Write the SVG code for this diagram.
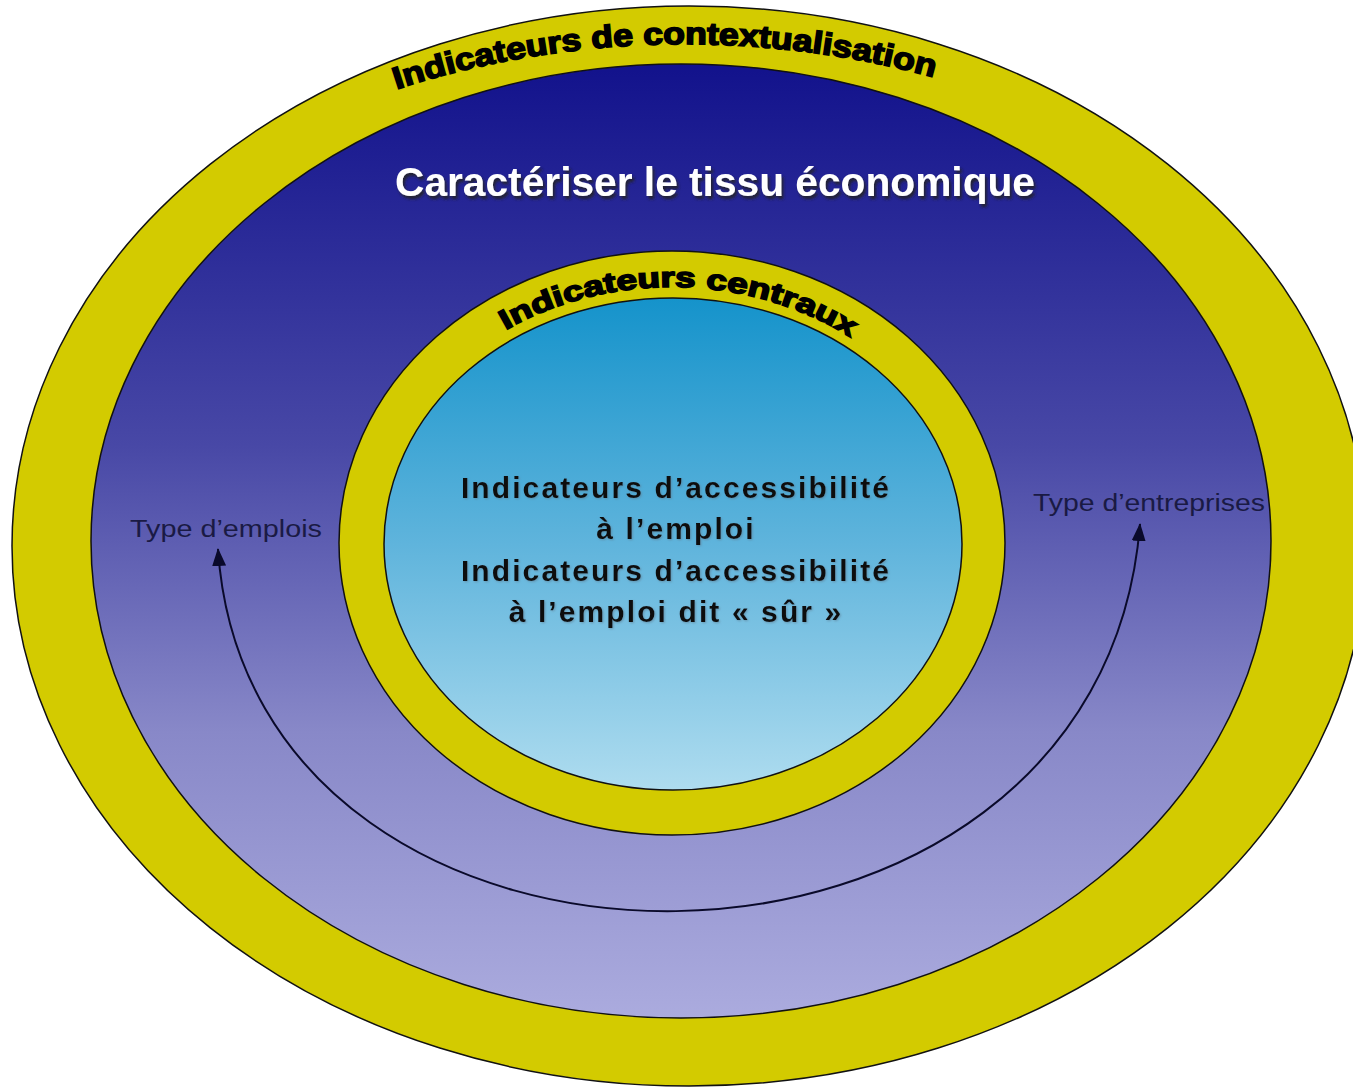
<svg xmlns="http://www.w3.org/2000/svg" width="1353" height="1089" viewBox="0 0 1353 1089">
  <style>
    .ring { fill: #d3cb00; stroke: #111; stroke-width: 1.5; }
    .arc-label { font-family: "Liberation Sans", Arial, sans-serif; font-weight: 900; fill: #000; stroke: #000; stroke-width: 1.6; }
    .core-text { font-family: "Liberation Sans", Arial, sans-serif; font-weight: bold; font-size: 30px; fill: #111; text-anchor: middle; letter-spacing: 2.1px; }
    .side-label { font-family: "Liberation Sans", Arial, sans-serif; font-size: 23px; fill: #1a1a44; }
    .conn { fill: none; stroke: #0a0a2a; stroke-width: 2; }
  </style>
  <defs>
    <linearGradient id="gBlue" x1="0" y1="0" x2="0" y2="1">
      <stop offset="0" stop-color="#12128c"/>
      <stop offset="0.4" stop-color="#4848a6"/>
      <stop offset="0.7" stop-color="#8888c8"/>
      <stop offset="1" stop-color="#ababde"/>
    </linearGradient>
    <linearGradient id="gCyan" x1="0" y1="0" x2="0" y2="1">
      <stop offset="0" stop-color="#1593cb"/>
      <stop offset="0.5" stop-color="#5fb4dc"/>
      <stop offset="1" stop-color="#aedcef"/>
    </linearGradient>
    <filter id="shadow" x="-10%" y="-30%" width="120%" height="160%">
      <feDropShadow dx="2" dy="3" stdDeviation="1.6" flood-color="#222" flood-opacity="0.9"/>
    </filter>
    <filter id="soft" x="-10%" y="-30%" width="120%" height="160%">
      <feDropShadow dx="1" dy="1" stdDeviation="0.8" flood-color="#5a7a90" flood-opacity="0.6"/>
    </filter>
    <marker id="arrowBig" viewBox="0 0 18 14" refX="17" refY="7" markerWidth="18" markerHeight="15" markerUnits="userSpaceOnUse" orient="auto-start-reverse">
      <path d="M0,0 L18,7 L0,14 z" fill="#0a0a2a"/>
    </marker>
    <path id="outerArc" d="M -10 546 A 695 502 0 0 1 1380 546"/>
    <path id="innerArc" d="M 372 544 A 300 257 0 0 1 972 544"/>
  </defs>

  <g id="ring-contextualisation">
    <ellipse class="ring" cx="689" cy="546" rx="677" ry="540"/>
  </g>

  <g id="zone-tissu-economique">
    <ellipse cx="681" cy="541" rx="590" ry="477" fill="url(#gBlue)" stroke="#111" stroke-width="1.5"/>
    <text x="715" y="196" font-family="Liberation Sans, Arial, sans-serif" font-weight="bold" font-size="40" fill="#fff" text-anchor="middle" textLength="640" lengthAdjust="spacingAndGlyphs" filter="url(#shadow)">Caractériser le tissu économique</text>
  </g>

  <g id="ring-centraux">
    <ellipse class="ring" cx="672" cy="543" rx="333" ry="292"/>
  </g>

  <g id="core-accessibilite">
    <ellipse cx="673" cy="544" rx="289" ry="246" fill="url(#gCyan)" stroke="#111" stroke-width="1.5"/>
    <g filter="url(#soft)">
      <text class="core-text" x="676" y="498">Indicateurs d’accessibilité</text>
      <text class="core-text" x="676" y="539">à l’emploi</text>
      <text class="core-text" x="676" y="581">Indicateurs d’accessibilité</text>
      <text class="core-text" x="676" y="622">à l’emploi dit « sûr »</text>
    </g>
  </g>

  <g id="arc-labels">
    <text class="arc-label" font-size="31" text-anchor="middle">
      <textPath href="#outerArc" startOffset="48.9%" textLength="545" lengthAdjust="spacingAndGlyphs">Indicateurs de contextualisation</textPath>
    </text>
    <text class="arc-label" font-size="28" text-anchor="middle">
      <textPath href="#innerArc" startOffset="50.8%" textLength="362" lengthAdjust="spacingAndGlyphs">Indicateurs centraux</textPath>
    </text>
  </g>

  <g id="label-emplois">
    <text class="side-label" x="130" y="537" textLength="192" lengthAdjust="spacingAndGlyphs">Type d’emplois</text>
  </g>
  <g id="label-entreprises">
    <text class="side-label" x="1033" y="511" textLength="232" lengthAdjust="spacingAndGlyphs">Type d’entreprises</text>
  </g>

  <g id="connectors">
    <path class="conn" d="M 218 549 C 250 1036, 1100 1036, 1140 524" marker-start="url(#arrowBig)" marker-end="url(#arrowBig)"/>
  </g>
</svg>
